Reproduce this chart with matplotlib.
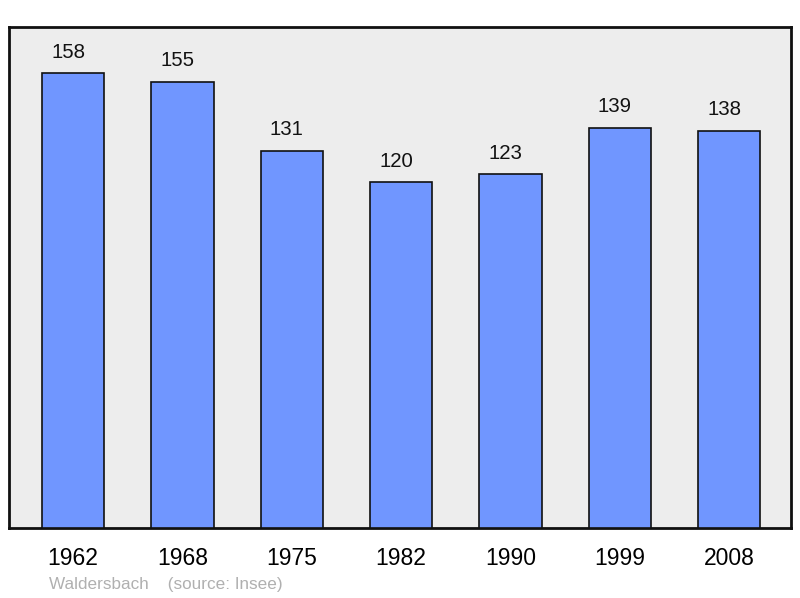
import matplotlib
matplotlib.use("Agg")
import matplotlib.pyplot as plt

years = ["1962", "1968", "1975", "1982", "1990", "1999", "2008"]
population = [158, 155, 131, 120, 123, 139, 138]
caption = "Waldersbach    (source: Insee)"

plt.rcParams['font.family'] = ['Liberation Sans', 'DejaVu Sans']

W, H = 800, 598
fig = plt.figure(figsize=(W/100, H/100), dpi=100)
ax = fig.add_axes([9/W, (H-528)/H, (791-9)/W, (528-27)/H])
ax.set_facecolor('#ededed')

x = list(range(len(years)))
ax.bar(x, population, width=0.57, color='#7096ff', edgecolor='#111111', linewidth=1.2, zorder=3)
for xi, v in zip(x, population):
    ax.annotate(str(v), (xi, v), xytext=(-3.5, 15), textcoords='offset points',
                ha='center', va='center', fontsize=14.7, color='#111111', zorder=4)

ax.set_xlim(-0.585, 6.565)
ax.set_ylim(0, 174)
ax.set_xticks(x)
ax.set_xticklabels(years, fontsize=16.5)
ax.tick_params(axis='x', length=0, pad=13.5)
ax.set_yticks([])
for s in ax.spines.values():
    s.set_linewidth(2)
    s.set_color('#111111')

fig.text(49/W, 1 - 584/H, caption, fontsize=12.3, color='#b0b0b0', ha='left', va='center')

fig.savefig('out.png', dpi=100)
